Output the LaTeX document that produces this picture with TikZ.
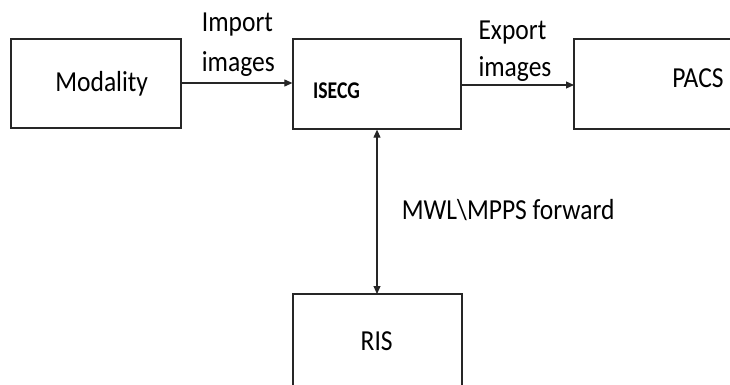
\documentclass[tikz,border=0pt]{standalone}
\usepackage{fontspec}
\setmainfont{Carlito}[FakeStretch=0.88]
\usetikzlibrary{arrows.meta}
\begin{document}
\begin{tikzpicture}[x=1pt,y=1pt,
  box/.style={draw=black!85, line width=1.3pt},
  lbl/.style={font=\fontsize{29}{34}\selectfont, inner sep=0pt, anchor=base},
  lblw/.style={font=\fontsize{29}{34}\selectfont, inner sep=0pt, anchor=base west},
  conn/.style={line width=1.1pt, draw=black!85, -{Triangle[length=8pt,width=7pt]}},
  conn2/.style={line width=1.1pt, draw=black!85, {Triangle[length=8pt,width=7pt]}-{Triangle[length=8pt,width=7pt]}}]
\useasboundingbox (0,0) rectangle (730,-385);
\node[box, minimum width=170pt, minimum height=89pt, inner sep=0pt] (mod) at (96,-83.5) {};
\node[lbl] (modt) at (101.7,-91.7) {Modality};
\node[box, minimum width=168pt, minimum height=90pt, inner sep=0pt] (isecg) at (377,-84) {};
\node[font=\bfseries\fontsize{24}{28}\selectfont\addfontfeature{FakeStretch=0.82}, inner sep=0pt, anchor=base] (isecgt) at (336.5,-99) {ISECG};
\draw[box] (740,-39) -- (574,-39) -- (574,-129) -- (740,-129);
\coordinate (pacsl) at (574,-85);
\node[lbl] (pacst) at (698,-88) {PACS};
\draw[box] (293,-390) -- (293,-294) -- (462,-294) -- (462,-390);
\coordinate (rist) at (377,-294);
\node[lbl] (rist2) at (376.7,-350) {RIS};
\draw[conn] (mod.east |- 0,-83) -- (isecg.west |- 0,-83);
\draw[conn] (isecg.east |- 0,-85) -- (pacsl);
\draw[conn2] (isecg.south) -- (rist);
\node[lblw] (imp1) at (201.7,-31.7) {Import};
\node[lblw] (imp2) at (201.7,-71.7) {images};
\node[lblw] (exp1) at (478.3,-39.3) {Export};
\node[lblw] (exp2) at (478.3,-76.7) {images};
\node[lblw] (mwl) at (401.7,-219.3) {MWL\textbackslash MPPS forward};
\end{tikzpicture}
\end{document}
